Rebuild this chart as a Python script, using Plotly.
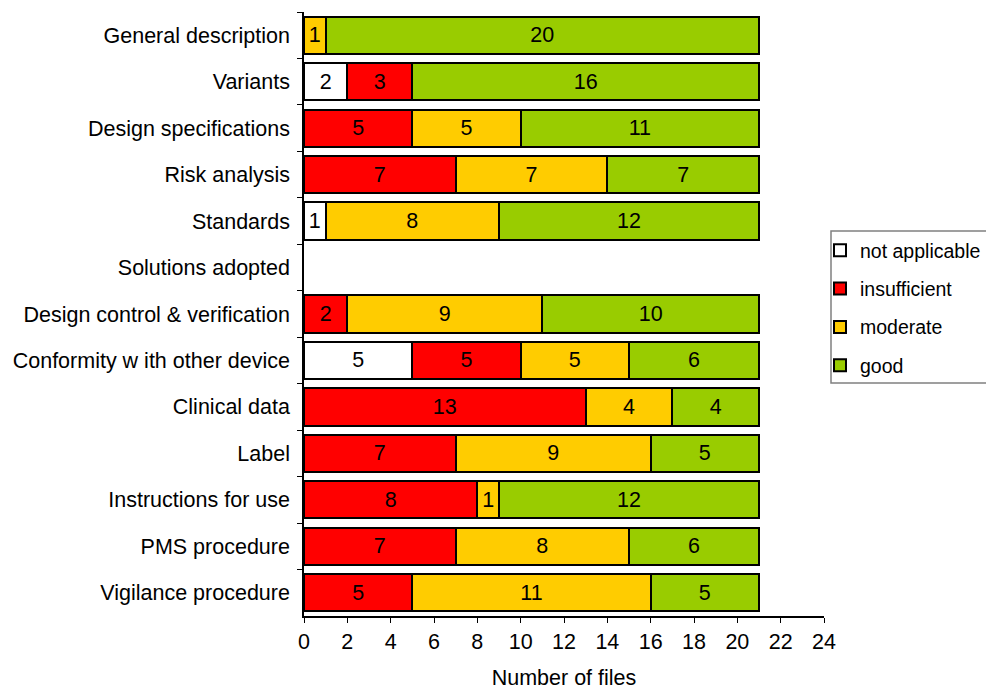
import plotly.graph_objects as go

categories = ["General description", "Variants", "Design specifications", "Risk analysis",
              "Standards", "Solutions adopted", "Design control & verification",
              "Conformity w ith other device", "Clinical data", "Label",
              "Instructions for use", "PMS procedure", "Vigilance procedure"]
not_applicable = [0, 2, 0, 0, 1, 0, 0, 5, 0, 0, 0, 0, 0]
insufficient = [0, 3, 5, 7, 0, 0, 2, 5, 13, 7, 8, 7, 5]
moderate = [1, 0, 5, 7, 8, 0, 9, 5, 4, 9, 1, 8, 11]
good = [20, 16, 11, 7, 12, 0, 10, 6, 4, 5, 12, 6, 5]

series = [("not applicable", not_applicable, "#FFFFFF"),
          ("insufficient", insufficient, "#FF0000"),
          ("moderate", moderate, "#FFCC00"),
          ("good", good, "#99CC00")]

FONT = "Liberation Sans, Arial, sans-serif"
FS = 21.5

# figure coordinates (page has an 8px body margin): plot area x 296..816, y 4..608
L, R, T, B = 296, 816, 4, 608
PW, PH = R - L, B - T


def px(x):
    return (x - L) / PW


def py(y):
    return (B - y) / PH


fig = go.Figure()
for name, vals, color in series:
    x = [v if v else None for v in vals]
    txt = [str(v) if v else "" for v in vals]
    fig.add_trace(go.Bar(
        y=categories, x=x, name=name, orientation="h", legendgroup=name,
        marker=dict(color=color, line=dict(color="black", width=2)),
        text=txt, textposition="inside", insidetextanchor="middle",
        textangle=0, constraintext="none",
        textfont=dict(color="black", size=FS, family=FONT),
        hoverinfo="x+name",
    ))

# legend frame
fig.add_shape(type="rect", xref="paper", yref="paper",
              x0=px(823), x1=px(985), y0=py(375), y1=py(223),
              line=dict(color="#808080", width=1.5), fillcolor="rgba(0,0,0,0)")

fig.update_layout(
    barmode="stack", bargap=0.2,
    width=986, height=682,
    margin=dict(l=L, r=986 - R, t=T, b=682 - B, autoexpand=False),
    plot_bgcolor="white", paper_bgcolor="white",
    font=dict(family=FONT, size=FS, color="black"),
    uniformtext=dict(minsize=FS, mode="show"),
    legend=dict(x=px(812), y=py(223), xanchor="left", yanchor="top",
                borderwidth=0, bgcolor="rgba(0,0,0,0)",
                font=dict(size=19.5, family=FONT), traceorder="grouped", tracegroupgap=10),
    xaxis=dict(range=[0, 24], dtick=2, showgrid=False, zeroline=False,
               showline=True, linecolor="black", linewidth=1.5,
               ticks="outside", ticklen=5, tickcolor="black", automargin=False,
               title=dict(text="Number of files", font=dict(size=FS), standoff=25)),
    yaxis=dict(autorange="reversed", showgrid=False, zeroline=False,
               showline=True, linecolor="black", linewidth=1.5, automargin=False,
               ticks="outside", ticklen=5, tickcolor="black", tickson="boundaries",
               ticklabelstandoff=8),
)

fig.write_html("out.html")
